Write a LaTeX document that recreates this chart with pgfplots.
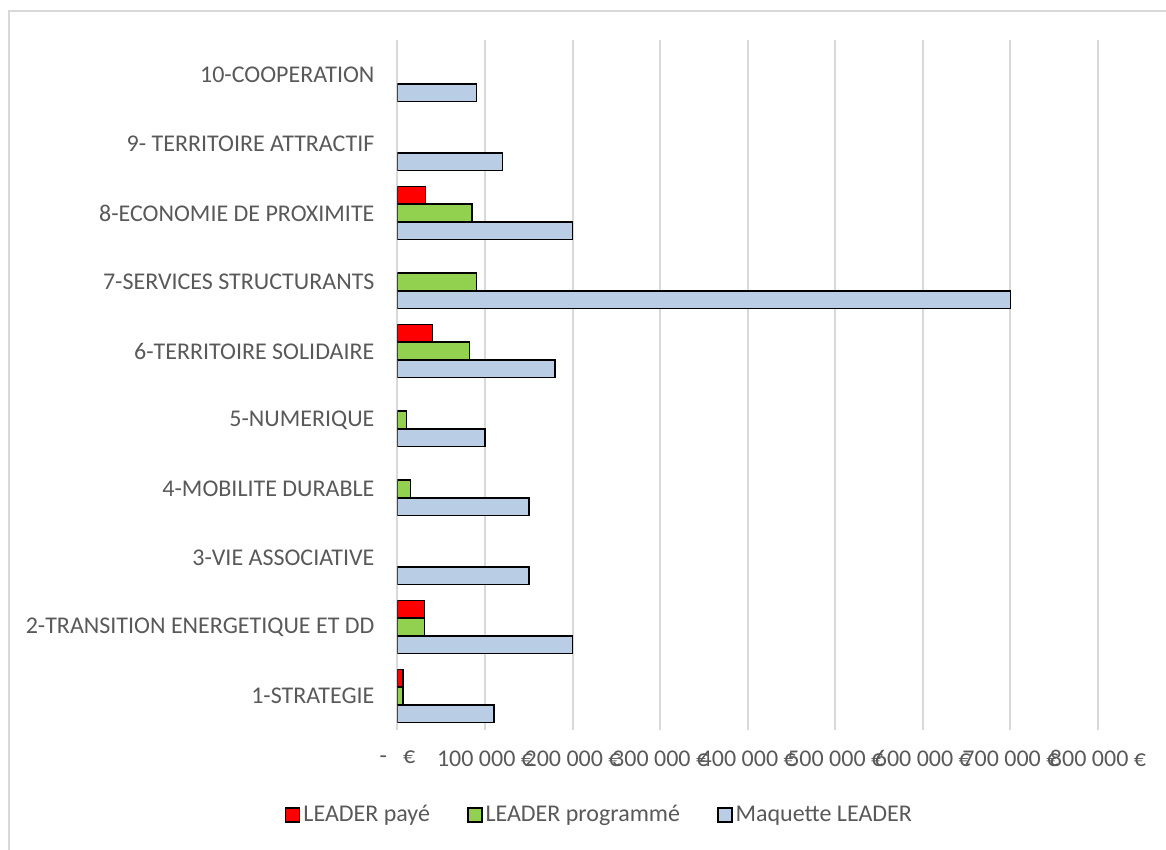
\documentclass[border=0pt]{standalone}
\usepackage{fontspec}
\setmainfont{Carlito}
\usepackage{pgfplots}
\pgfplotsset{compat=1.18}
\definecolor{txt}{HTML}{595959}
\definecolor{gridc}{HTML}{D9D9D9}
\definecolor{cred}{HTML}{FF0000}
\definecolor{cgreen}{HTML}{92D050}
\definecolor{cblue}{HTML}{B9CDE5}
\begin{document}
\begin{tikzpicture}
\useasboundingbox (-198.75pt,-59.75pt) rectangle (384.25pt,365.25pt);
\draw[gridc, line width=0.75pt] (-194.25pt,359.75pt) rectangle (390pt,-70pt);
\begin{axis}[at={(0pt,0pt)}, anchor=south west, scale only axis,
  width=350.25pt, height=345pt,
  xbar, bar width=0.254,
  xmin=0, xmax=800000, ymin=0.5, ymax=10.5,
  axis line style={draw=none}, major tick length=0pt, tick style={draw=none},
  xmajorgrids, grid style={gridc, line width=1pt},
  xtick={0,100000,200000,300000,400000,500000,600000,700000,800000},
  xticklabels={{-\hspace{8pt}€},{100 000 €},{200 000 €},{300 000 €},{400 000 €},{500 000 €},{600 000 €},{700 000 €},{800 000 €}},
  scaled x ticks=false,
  ytick={1,2,3,4,5,6,7,8,9,10},
  yticklabels={{1-STRATEGIE},{2-TRANSITION ENERGETIQUE ET DD},{3-VIE ASSOCIATIVE},{4-MOBILITE DURABLE},{5-NUMERIQUE},{6-TERRITOIRE SOLIDAIRE},{7-SERVICES STRUCTURANTS},{8-ECONOMIE DE PROXIMITE},{9- TERRITOIRE ATTRACTIF},{10-COOPERATION}},
  ticklabel style={font=\fontsize{12}{14}\selectfont, text=txt},
  xticklabel shift=6.5pt, yticklabel shift=8pt,
  legend columns=-1,
  legend style={at={(0.289,-0.1225)}, anchor=center, draw=none, fill=none,
    font=\fontsize{12}{14}\selectfont, text=txt,
    nodes={inner sep=1.5pt},
    /tikz/every even column/.append style={column sep=17pt}},
  legend cell align=left,
  legend image code/.code={\draw[#1,line width=0.75pt] (0pt,-3.5pt) rectangle (7pt,3.5pt);},
]
\addplot[fill=cred, draw=black, line width=0.75pt, bar shift=0.254]
  coordinates {(6000,1) (31000,2) (40000,6) (32000,8)};
\addlegendentry{LEADER payé}
\addplot[fill=cgreen, draw=black, line width=0.75pt, bar shift=0]
  coordinates {(6000,1) (31000,2) (15000,4) (10000,5) (82000,6) (90000,7) (85000,8)};
\addlegendentry{LEADER programmé}
\addplot[fill=cblue, draw=black, line width=0.75pt, bar shift=-0.254]
  coordinates {(110000,1) (200000,2) (150000,3) (150000,4) (100000,5) (180000,6) (700000,7) (200000,8) (120000,9) (90000,10)};
\addlegendentry{Maquette LEADER}
\end{axis}
\end{tikzpicture}
\end{document}
